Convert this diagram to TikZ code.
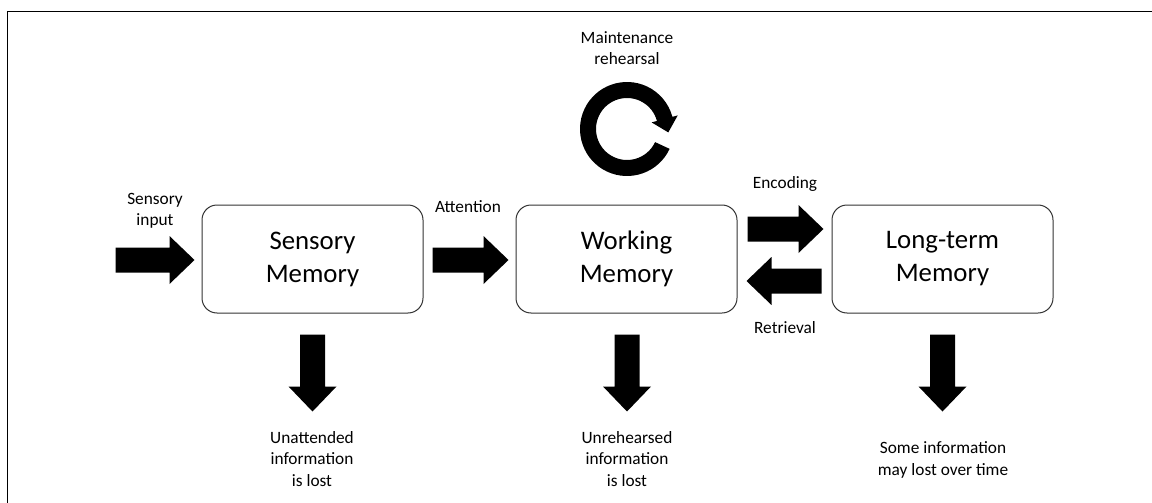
\documentclass[tikz,border=0pt]{standalone}
\usepackage{fontspec}
\setmainfont{Carlito}
\usetikzlibrary{calc}
\tikzset{
  membox/.style={draw=black!80, line width=1pt, rounded corners=15pt, minimum width=221pt, minimum height=108pt, inner sep=0pt, align=center, font=\fontsize{26.8}{33}\selectfont},
  lbl/.style={align=center, inner sep=0pt, font=\fontsize{17.3}{21.5}\selectfont},
  blockfill/.style={fill=black},
}
\newcommand{\blockarrow}[3]{\fill[blockfill, shift={#1}, rotate=#2] (0,-12.5) -- (#3-25,-12.5) -- (#3-25,-24) -- (#3,0) -- (#3-25,24) -- (#3-25,12.5) -- (0,12.5) -- cycle;}
\begin{document}
\begin{tikzpicture}[x=1pt, y=-1pt]
\useasboundingbox (0,0) rectangle (1152,503);
% frame (only top and left edges visible)
\draw[line width=1.8pt] (1152,11.5) -- (7.5,11.5) -- (7.5,503);
% boxes
\node[membox] (sm) at (312.5,259) {Sensory\\Memory};
\node[membox] (wm) at (626.5,259) {Working\\Memory};
\node[membox] (ltm) at (942.5,259) {Long-term\\Memory};
% arrow anchors
\coordinate (ain) at ($(sm.west)+(-86,1)$);
\coordinate (aatt) at ($(sm.east)+(9,1)$);
\coordinate (aenc) at ($(wm.east)+(10,-30)$);
\coordinate (aret) at ($(ltm.west)+(-10,22)$);
\coordinate (dsm) at ($(sm.south)+(0,21)$);
\coordinate (dwm) at ($(wm.south)+(0.5,21)$);
\coordinate (dltm) at ($(ltm.south)+(0,21)$);
\blockarrow{(ain)}{0}{79}
\blockarrow{(aatt)}{0}{76}
\blockarrow{(aenc)}{0}{76}
\blockarrow{(aret)}{180}{75}
\blockarrow{(dsm)}{-90}{77}
\blockarrow{(dwm)}{-90}{77}
\blockarrow{(dltm)}{-90}{77}
% rehearsal loop
\coordinate (rc) at (627,129);
\begin{scope}[shift={(rc)}, x=1pt, y=1pt]
\fill (-25:47) arc[start angle=-25, end angle=-345, radius=47] -- (15:52.5) -- (41.3,-3.4) -- (15:25.5) -- (15:31) arc[start angle=-345, end angle=-25, radius=31] -- cycle;
\end{scope}
% labels
\node[lbl] (lin) at (155,211) {Sensory\\input};
\node[lbl] (latt) at (468,207) {Attention};
\node[lbl] (lmr) at (627,48) {Maintenance\\rehearsal};
\node[lbl] (lenc) at (785,184) {Encoding};
\node[lbl] (lret) at (785,328) {Retrieval};
\node[lbl] (lun) at (312,459) {Unattended\\information\\is lost};
\node[lbl] (lur) at (627,459) {Unrehearsed\\information\\is lost};
\node[lbl] (lsome) at (943,460) {Some information\\may lost over time};
\end{tikzpicture}
\end{document}
